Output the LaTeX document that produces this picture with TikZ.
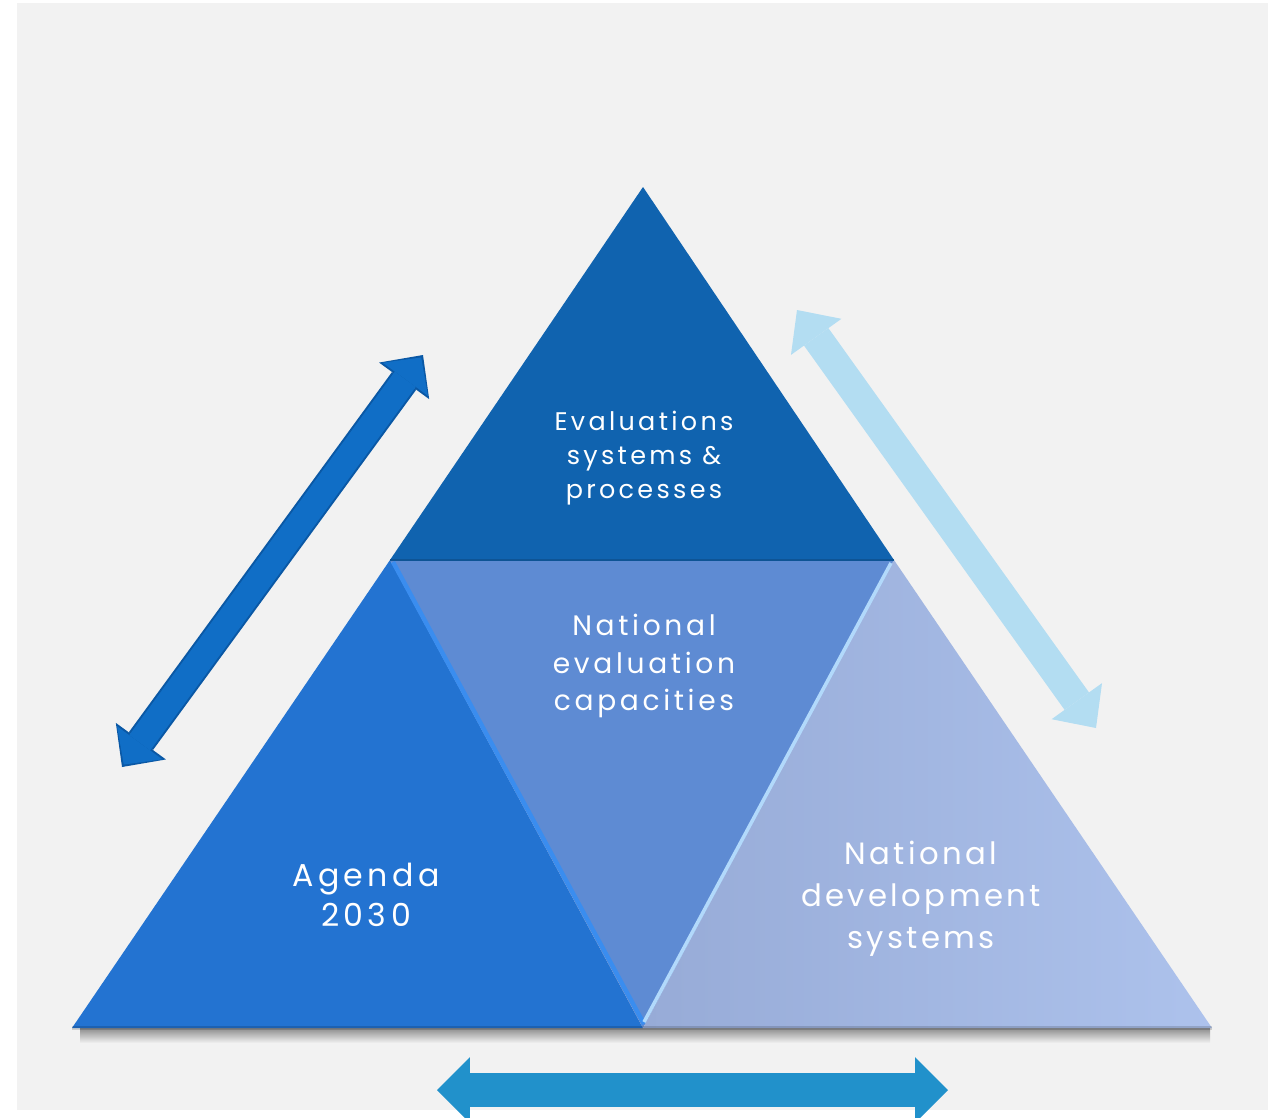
\documentclass[tikz,border=0pt]{standalone}
\usepackage{fontspec}
\setmainfont{Poppins}
\usetikzlibrary{arrows.meta,calc}

\definecolor{bggray}{HTML}{F2F2F2}
\definecolor{topblue}{HTML}{1063AF}
\definecolor{leftblue}{HTML}{2373D1}
\definecolor{midblue}{HTML}{5E8BD3}
\definecolor{rightblueA}{HTML}{97ABD7}
\definecolor{rightblueB}{HTML}{ADC2EC}
\definecolor{arrowdark}{HTML}{0A58A5}
\definecolor{arrowblue}{HTML}{106EC6}
\definecolor{arrowlight}{HTML}{B3DDF2}
\definecolor{arrowmid}{HTML}{2191CB}
\definecolor{edgebright}{HTML}{3A8DEF}
\definecolor{edgelight}{HTML}{B2D9FB}

\begin{document}
\begin{tikzpicture}[x=0.02cm, y=-0.02cm,
    txt/.style={text=white, align=center, inner sep=0pt}]
    % Page and grey panel
    \useasboundingbox (0,0) rectangle (1275,1117);
    \clip (0,0) rectangle (1275,1117);
    \fill[white] (0,0) rectangle (1275,1117);
    \fill[bggray] (17,3) rectangle (1268,1110);

    % Corners of the pyramid
    \coordinate (apex) at (643,187);
    \coordinate (ml) at (390,560);
    \coordinate (mr) at (894,560);
    \coordinate (bl) at (72,1028);
    \coordinate (bm) at (643,1028);
    \coordinate (br) at (1212,1028);

    % Shadow under the base
    \shade[top color=black!45, bottom color=bggray] (80,1028) rectangle (1210,1043);

    % The four triangles
    \fill[topblue] (apex) -- (ml) -- (mr) -- cycle;
    \fill[leftblue] (bl) -- (bm) -- (ml) -- cycle;
    \fill[midblue] (ml) -- (mr) -- (bm) -- cycle;
    \shade[left color=rightblueA, right color=rightblueB] (bm) -- (br) -- (mr) -- cycle;

    % Edges of the middle triangle
    \draw[edgebright, line width=2.5pt] ($(ml)+(3,2)$) -- ($(bm)+(1,-4)$);
    \draw[edgelight, line width=2pt] ($(mr)+(-3,3)$) -- ($(bm)+(1,-6)$);
    \draw[topblue!85!black, line width=1.5pt] (ml) -- (mr);
    \draw[black, opacity=0.15, line width=2pt] (bl) -- (br);

    % Labels
    \node[txt, font=\fontsize{14.5}{19.4}\selectfont\addfontfeature{LetterSpace=13}] (evalsys) at (644,458) {Evaluations\\systems \&\\processes};
    \node[txt, font=\fontsize{16}{21.4}\selectfont\addfontfeature{LetterSpace=13}] (natcap) at (644,666) {National\\evaluation\\capacities};
    \node[txt, font=\fontsize{18}{22.8}\selectfont\addfontfeature{LetterSpace=14}] (agenda) at (366,895) {Agenda\\2030};
    \node[txt, font=\fontsize{17.5}{23.9}\selectfont\addfontfeature{LetterSpace=11}] (natdev) at (921,899) {National\\development\\systems};

    % Arrow ends
    \coordinate (la) at (122,767);
    \coordinate (lb) at (423,355);
    \coordinate (ra) at (797,310);
    \coordinate (rb) at (1096,728);
    \coordinate (ba) at (437,1090);
    \coordinate (bb) at (948,1090);

    % Left arrow with its dark rim
    \draw[arrowdark, line width=0.6cm,
        {Triangle[length=0.64cm, width=1.24cm, line width=0pt]}-{Triangle[length=0.64cm, width=1.24cm, line width=0pt]}]
        (la) -- (lb);
    \draw[arrowblue, line width=0.52cm, shorten <=0.06cm, shorten >=0.06cm,
        {Triangle[length=0.54cm, width=1.12cm, line width=0pt]}-{Triangle[length=0.54cm, width=1.12cm, line width=0pt]}]
        (la) -- (lb);

    % Right arrow
    \draw[arrowlight, line width=0.6cm,
        {Triangle[length=0.66cm, width=1.24cm, line width=0pt]}-{Triangle[length=0.66cm, width=1.24cm, line width=0pt]}]
        (ra) -- (rb);

    % Bottom arrow
    \draw[arrowmid, line width=0.68cm,
        {Triangle[length=0.66cm, width=1.32cm, line width=0pt]}-{Triangle[length=0.66cm, width=1.32cm, line width=0pt]}]
        (ba) -- (bb);
\end{tikzpicture}
\end{document}
